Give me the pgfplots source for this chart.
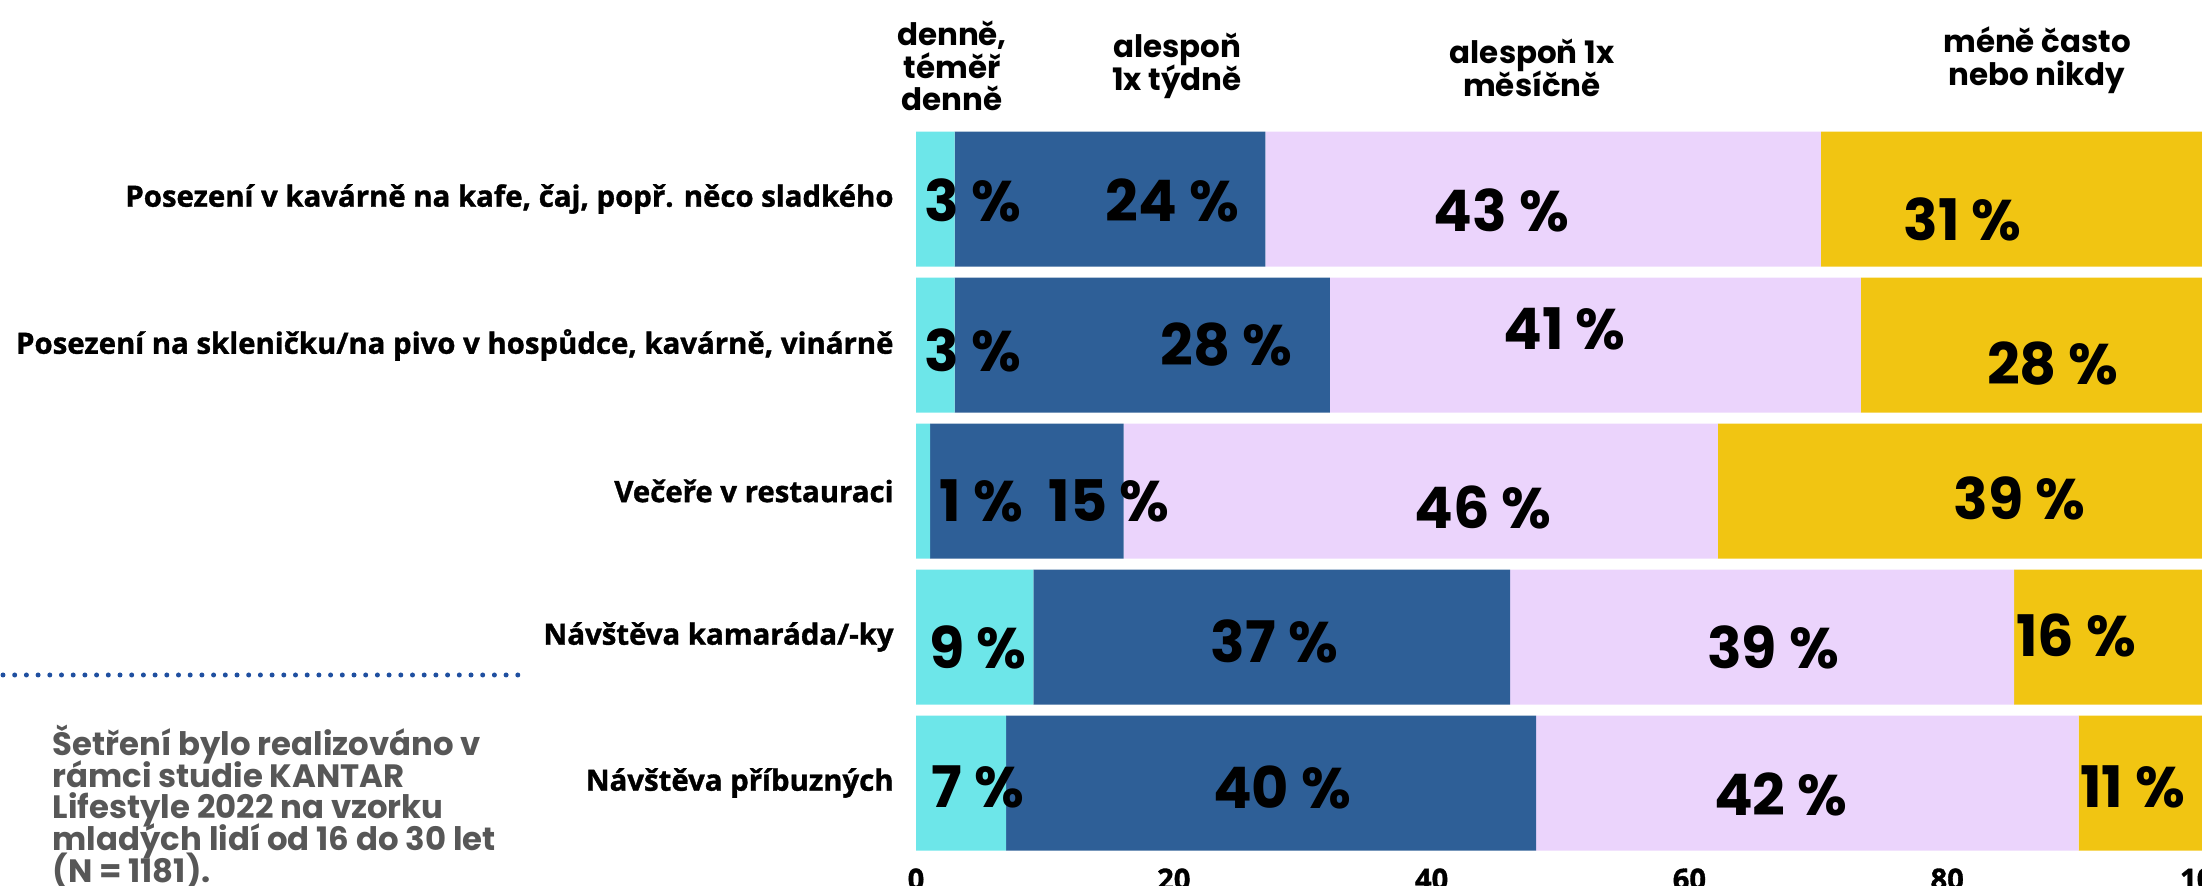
\documentclass[border=0pt]{standalone}
\usepackage{pgfplots}
\usepackage{pgfplotstable}
\pgfplotsset{compat=1.18}
\usepackage{fontspec}
\setmainfont{Open Sans}
\newfontfamily\condfont[FakeBold=1.2]{Open Sans}
\newfontfamily\popfont{Poppins}
\definecolor{ccyan}{HTML}{6DE6E9}
\definecolor{cblue}{HTML}{2E5F97}
\definecolor{clav}{HTML}{EBD4FC}
\definecolor{cyel}{HTML}{F1C512}
\definecolor{cgray}{HTML}{575757}
\definecolor{cdot}{HTML}{1F4FA0}
\newcommand{\tightlines}{\lineskiplimit=-1000pt\relax}

\pgfplotstableread{
row a b c d
0 3.0 24.1 43.1 29.8
1 3.0 29.1 41.2 26.7
2 1.1 15.0 46.1 37.8
3 9.1 37.0 39.1 14.8
4 7.0 41.1 42.1 9.8
}\datatable

\newcommand{\pl}[3]{\node[pct] at ({91.6mm+1.289mm*(#1)},{3mm+14.6mm*(4.5-(#2))}) {#3 \%};}

\begin{document}
\begin{tikzpicture}[
  pct/.style={font=\popfont\bfseries\fontsize{16.3}{17}\selectfont, text=black, inner sep=0pt},
  hdr/.style={font=\popfont\bfseries\fontsize{8.8}{9.3}\selectfont\tightlines, align=center, inner sep=0pt}]
\begin{axis}[
  at={(91.6mm,3.0mm)}, anchor=south west,
  scale only axis, width=128.9mm, height=73mm,
  xbar stacked, bar width=13.5mm,
  xmin=0, xmax=100, ymin=-0.5, ymax=4.5, y dir=reverse,
  axis line style={draw=none}, major tick length=0pt,
  xtick={0,20,40,60,80,100},
  ytick={0,1,2,3,4},
  yticklabels={{Posezení v kavárně na kafe, čaj, popř. něco sladkého},
    {Posezení na skleničku/na pivo v hospůdce, kavárně, vinárně},
    {Večeře v restauraci}, {Návštěva kamaráda/-ky}, {Návštěva příbuzných}},
  yticklabel style={font=\condfont\bfseries\fontsize{8.35}{10}\selectfont, xshift=-1mm},
  xticklabel style={font=\condfont\bfseries\fontsize{8.3}{10}\selectfont},
  /pgf/number format/assume math mode=true,
  clip=false,
]
\addplot [fill=ccyan, draw=none] table [x=a, y=row] {\datatable};
\addplot [fill=cblue, draw=none] table [x=b, y=row] {\datatable};
\addplot [fill=clav, draw=none] table [x=c, y=row] {\datatable};
\addplot [fill=cyel, draw=none] table [x=d, y=row] {\datatable};
\end{axis}

\pl{4.4}{0.01}{3}
\pl{19.9}{0.01}{24}
\pl{45.4}{0.08}{43}
\pl{81.2}{0.14}{31}
\pl{4.4}{1.04}{3}
\pl{24.1}{1.0}{28}
\pl{50.3}{0.89}{41}
\pl{88.2}{1.13}{28}
\pl{5.1}{2.07}{1}
\pl{15.0}{2.07}{15}
\pl{44.0}{2.11}{46}
\pl{85.6}{2.05}{39}
\pl{4.8}{3.07}{9}
\pl{27.8}{3.03}{37}
\pl{66.5}{3.07}{39}
\pl{90.0}{2.99}{16}
\pl{4.8}{4.03}{7}
\pl{28.4}{4.03}{40}
\pl{67.1}{4.08}{42}
\pl{94.4}{4.03}{11}

\node[hdr] at (95.2mm,82.0mm) {denně,\\téměř\\denně};
\node[hdr] at (117.7mm,82.0mm) {alespoň\\1x týdně};
\node[hdr] at (153.2mm,81.8mm) {alespoň 1x\\měsíčně};
\node[hdr] at (203.7mm,82.6mm) {méně často\\nebo nikdy};

\draw[cdot, line width=0.5mm, line cap=round, dash pattern=on 0pt off 1.17mm] (0.3mm,21.1mm) -- (51.8mm,21.1mm);

\node[anchor=north west, align=left, inner sep=0pt, text=cgray,
  font=\popfont\bfseries\fontsize{9.2}{9.05}\selectfont\tightlines] at (5.2mm,16.2mm)
  {Šetření bylo realizováno v\\rámci studie KANTAR\\Lifestyle 2022 na vzorku\\mladých lidí od 16 do 30 let\\(N = 1181).};

\pgfresetboundingbox
\useasboundingbox (0,0) rectangle (220.2mm,88.6mm);
\end{tikzpicture}
\end{document}
